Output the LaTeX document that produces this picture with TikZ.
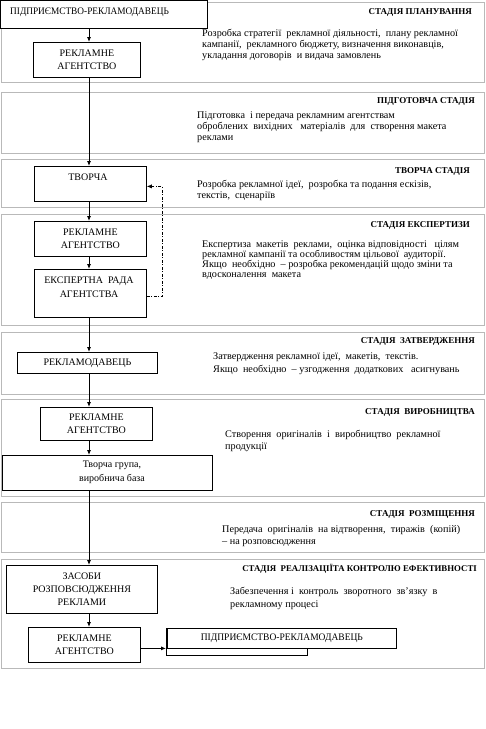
\documentclass[tikz,border=0pt]{standalone}
\usepackage{fontspec}
\setmainfont{Liberation Serif}
\usetikzlibrary{arrows.meta,calc}
\begin{document}
\begin{tikzpicture}[x=1pt,y=-1pt,
 frame/.style={draw=gray!55, line width=1pt},
 bx/.style={draw=black, line width=0.8pt, fill=white, inner sep=0pt, anchor=north west, align=center, font=\fontsize{10}{13}\selectfont},
 bt/.style={font=\fontsize{10}{14}\selectfont, align=center, inner sep=0pt},
 ttl/.style={font=\fontsize{9}{11}\bfseries\selectfont, anchor=base east, inner sep=0pt},
 body/.style={align=left, anchor=north west, inner sep=0pt},
 arr/.style={-{Latex[length=5pt,width=4pt]}, line width=0.8pt},
 fb/.style={-{Latex[length=5pt,width=4pt]}, line width=0.6pt, dash pattern=on 3pt off 1.5pt on 1pt off 1.5pt},
]
\useasboundingbox (0,0) rectangle (486,729);
% stage frames
\draw[frame] (1,2) rectangle (484,82);
\draw[frame] (1,92) rectangle (484,153);
\draw[frame] (1,159) rectangle (484,207);
\draw[frame] (1,214) rectangle (484,325);
\draw[frame] (1,332) rectangle (484,394);
\draw[frame] (1,399) rectangle (484,496);
\draw[frame] (1,502) rectangle (484,552);
\draw[frame] (1,559) rectangle (484,668);

\coordinate (sp) at (89,0);

% boxes
\node[bx, minimum width=207pt, minimum height=28pt] (cl1) at (0,0) {};
\node[anchor=base west, inner sep=0pt, font=\fontsize{10}{12}\selectfont] (cl1t) at (10,14.5) {\scalebox{0.93}[1]{ПІДПРИЄМСТВО-РЕКЛАМОДАВЕЦЬ}};
\node[bx, minimum width=107pt, minimum height=35pt] (ag1) at (33,42) {РЕКЛАМНЕ\\АГЕНТСТВО};
\node[bx, minimum width=112pt, minimum height=35pt] (tv) at (34,166) {};
\node[bt, anchor=base] (tvt) at (88,180) {ТВОРЧА};
\node[bx, minimum width=112pt, minimum height=35pt] (ag2) at (34,221) {РЕКЛАМНЕ\\АГЕНТСТВО};
\node[bx, minimum width=112pt, minimum height=48pt] (ex) at (34,269) {};
\node[bt, anchor=center] (ext) at (89,287) {ЕКСПЕРТНА \ РАДА\\АГЕНТСТВА};
\node[bx, minimum width=140pt, minimum height=21pt] (kl2) at (17,352) {РЕКЛАМОДАВЕЦЬ};
\node[bx, minimum width=112pt, minimum height=33pt] (ag3) at (40,407) {РЕКЛАМНЕ\\АГЕНТСТВО};
\node[bx, minimum width=210pt, minimum height=35pt] (tg) at (2,455) {};
\node[bt, anchor=center] (tgt) at (112,472) {Творча група,\\виробнича база};
\node[bx, minimum width=151pt, minimum height=48pt] (zr) at (6,565) {ЗАСОБИ\\РОЗПОВСЮДЖЕННЯ\\РЕКЛАМИ};
\node[bx, minimum width=112pt, minimum height=35pt] (ag4) at (28,627) {РЕКЛАМНЕ\\АГЕНТСТВО};
\node[bx, minimum width=141pt, minimum height=27pt] (bk) at (166,628) {};
\node[bx, minimum width=229pt, minimum height=20pt] (cl3) at (167,628) {\scalebox{0.95}[1]{ПІДПРИЄМСТВО-РЕКЛАМОДАВЕЦЬ}};

% main flow
\draw[arr] (cl1.south -| sp) -- (ag1.north -| sp);
\draw[arr] (ag1.south -| sp) -- (tv.north -| sp);
\draw[arr] (tv.south -| sp) -- (ag2.north -| sp);
\draw[arr] (ag2.south -| sp) -- (ex.north -| sp);
\draw[arr] (ex.south -| sp) -- (kl2.north -| sp);
\draw[arr] (kl2.south -| sp) -- (ag3.north -| sp);
\draw[arr] (ag3.south -| sp) -- (tg.north -| sp);
\draw[arr] (tg.south -| sp) -- (zr.north -| sp);
\draw[arr] (zr.south -| sp) -- (ag4.north -| sp);
\draw[arr] ([yshift=-3.5pt]ag4.east) -- ([yshift=-3.5pt]ag4.east -| bk.west);
% feedback
\coordinate (fbx) at (162,0);
\draw[fb] ([yshift=-3pt]ex.east) -- ([yshift=-3pt]ex.east -| fbx) |- ([yshift=-2.5pt]tv.east);

% titles
\node[ttl] (t1) at (472,14) {СТАДІЯ ПЛАНУВАННЯ};
\node[ttl] (t2) at (475,103) {ПІДГОТОВЧА СТАДІЯ};
\node[ttl] (t3) at (470,173) {ТВОРЧА СТАДІЯ};
\node[ttl] (t4) at (470,227) {СТАДІЯ ЕКСПЕРТИЗИ};
\node[ttl] (t5) at (475,343) {СТАДІЯ \ ЗАТВЕРДЖЕННЯ};
\node[ttl] (t6) at (475,414) {СТАДІЯ \ ВИРОБНИЦТВА};
\node[ttl] (t7) at (475,516) {СТАДІЯ \ РОЗМІЩЕННЯ};
\node[ttl, font=\fontsize{8.8}{10}\bfseries\selectfont] (t8) at (477,571) {СТАДІЯ \ РЕАЛІЗАЦІЇТА КОНТРОЛЮ ЕФЕКТИВНОСТІ};

% descriptions
\node[body, font=\fontsize{10.2}{10.8}\selectfont] (d1) at (202,29) {Розробка стратегії \ рекламної діяльності, \ плану рекламної\\кампанії, \ рекламного бюджету, визначення виконавців,\\укладання договорів \ и видача замовлень};
\node[body, font=\fontsize{10.2}{11}\selectfont] (d2) at (197,112) {Підготовка \ і передача рекламним агентствам\\оброблених \ вихідних \ \ матеріалів \ для \ створення макета\\реклами};
\node[body, font=\fontsize{10.2}{11}\selectfont] (d3) at (197,180) {Розробка рекламної ідеї, \ розробка та подання ескізів,\\текстів, \ сценаріїв};
\node[body, font=\fontsize{10.2}{9.5}\selectfont] (d4) at (202,241) {Експертиза \ макетів \ реклами, \ оцінка відповідності \ \ цілям\\рекламної кампанії та особливостям цільової \ аудиторії.\\Якщо \ необхідно \ -- розробка рекомендацій щодо зміни та\\вдосконалення \ макета};
\node[body, font=\fontsize{10.2}{13}\selectfont] (d5) at (213,353) {Затвердження рекламної ідеї, \ макетів, \ текстів.\\Якщо \ необхідно \ -- узгодження \ додаткових \ \ асигнувань};
\node[body, font=\fontsize{10.2}{12}\selectfont] (d6) at (225,430) {Створення \ оригіналів \ і \ виробництво \ рекламної\\продукції};
\node[body, font=\fontsize{10.2}{12}\selectfont] (d7) at (222,525) {Передача \ оригіналів \ на відтворення, \ тиражів \ (копій)\\-- на розповсюдження};
\node[body, font=\fontsize{10.2}{13}\selectfont] (d8) at (230,587) {Забезпечення і \ контроль \ зворотного \ зв'язку \ в\\рекламному процесі};
\end{tikzpicture}
\end{document}
